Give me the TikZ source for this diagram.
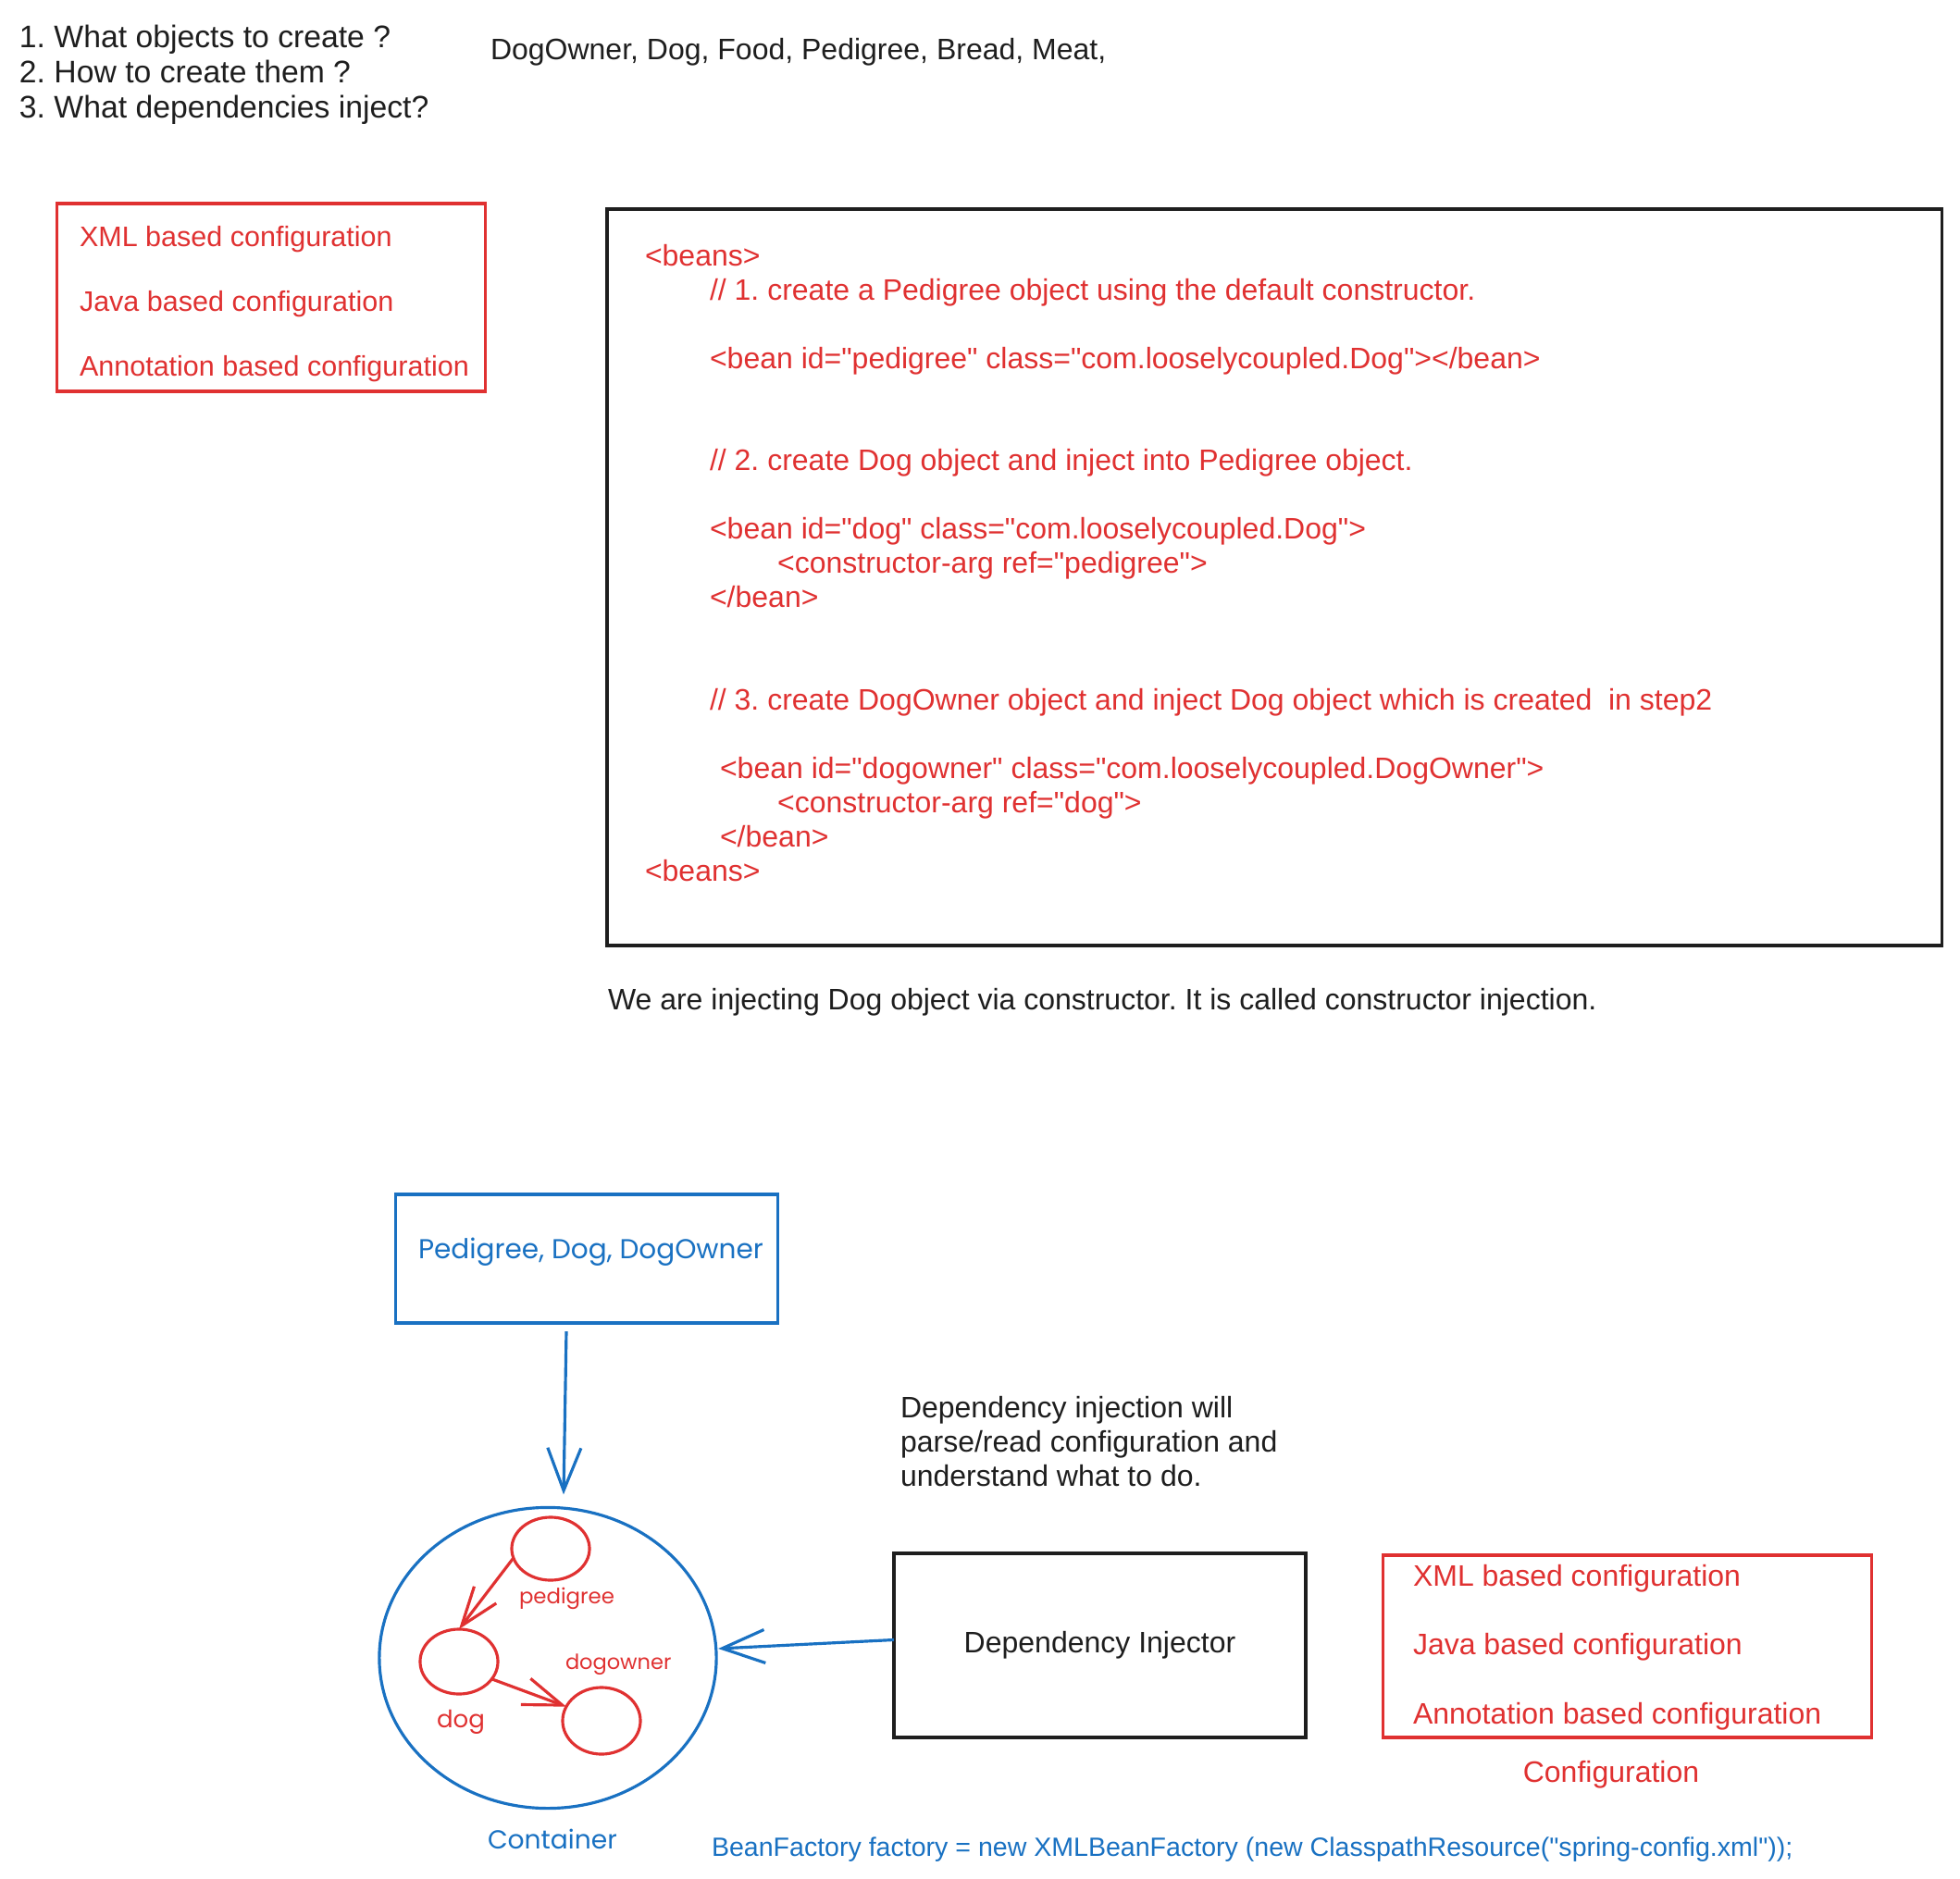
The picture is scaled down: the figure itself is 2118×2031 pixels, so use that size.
\documentclass[tikz,border=0pt]{standalone}
\usepackage{fontspec}
\setmainfont{Liberation Sans}[Ligatures=TeXOff]
\newfontfamily\roundfont{Poppins}
\usetikzlibrary{shapes.geometric,arrows.meta}
\definecolor{exred}{HTML}{E03131}
\definecolor{exblue}{HTML}{1971C2}
\definecolor{exink}{HTML}{1E1E1E}
\frenchspacing
\begin{document}
\begin{tikzpicture}[x=0.01cm,y=-0.01cm,every node/.style={inner sep=0pt,outer sep=0pt},
  txt/.style={anchor=base west,align=left,text=exink,font=\fontsize{9.1}{10.5}\selectfont},
  frame/.style={draw=#1,line width=0.9pt,rectangle},
  bubble/.style={draw=exred,line width=0.9pt,ellipse,minimum width=0.84cm},
  bluearr/.style={draw=exblue,line width=0.9pt,-{Straight Barb[length=0.46cm,width=0.36cm]}},
  redarr/.style={draw=exred,line width=0.9pt,-{Straight Barb[length=0.42cm,width=0.3cm]}}]
\useasboundingbox[fill=white] (0,0) rectangle (2118,2031);
% questions (multi-line nodes sit on their last line)
\node[txt,font=\fontsize{9.59}{10.81}\selectfont] (quest) at (21,128) {1. What objects to create ?\\2. How to create them ?\\3. What dependencies inject?};
\node[txt] (objlist) at (530,65) {DogOwner, Dog, Food, Pedigree, Bread, Meat,};
% configuration kinds
\node[frame=exred,minimum width=4.62cm,minimum height=2.03cm] (cfgtop) at (293,321.5) {};
\node[txt,text=exred,font=\fontsize{8.68}{19.92}\selectfont] (cfgtoptxt) at (86,407) {XML based configuration\\Java based configuration\\Annotation based configuration};
% xml beans
\node[frame=exink,line width=1.1pt,minimum width=14.42cm,minimum height=7.96cm] (codebox) at (1377,624) {};
\node[txt,text=exred] (code) at (697,952) {%
<beans>\\
\hspace*{0.70cm}// 1. create a Pedigree object using the default constructor.\\
\mbox{}\\
\hspace*{0.70cm}<bean id="pedigree" class="com.looselycoupled.Dog"></bean>\\
\mbox{}\\
\mbox{}\\
\hspace*{0.70cm}// 2. create Dog object and inject into Pedigree object.\\
\mbox{}\\
\hspace*{0.70cm}<bean id="dog" class="com.looselycoupled.Dog">\\
\hspace*{1.43cm}<constructor-arg ref="pedigree">\\
\hspace*{0.70cm}</bean>\\
\mbox{}\\
\mbox{}\\
\hspace*{0.70cm}// 3. create DogOwner object and inject Dog object which is created\ \ in step2\\
\mbox{}\\
\hspace*{0.81cm}<bean id="dogowner" class="com.looselycoupled.DogOwner">\\
\hspace*{1.43cm}<constructor-arg ref="dog">\\
\hspace*{0.81cm}</bean>\\
<beans>};
\node[txt] (note) at (657,1091) {We are injecting Dog object via constructor. It is called constructor injection.};
% container part
\node[frame=exblue,minimum width=4.12cm,minimum height=1.39cm] (objbox) at (634,1360.5) {};
\node[txt,text=exblue,font=\roundfont\fontsize{8.4}{10}\selectfont] (objtxt) at (452,1360) {Pedigree, Dog, DogOwner};
\node[draw=exblue,line width=0.9pt,ellipse,minimum width=3.64cm,minimum height=3.25cm] (cont) at (592,1792) {};
\node[txt,text=exblue,font=\roundfont\fontsize{8}{10}\selectfont] (contlbl) at (527,1998) {Container};
\node[bubble,minimum height=0.68cm] (ped) at (595,1674) {};
\node[bubble,minimum height=0.70cm] (dog) at (496,1796) {};
\node[bubble,minimum height=0.72cm] (own) at (650,1860) {};
\node[txt,text=exred,font=\roundfont\fontsize{6.5}{8}\selectfont] (pedlbl) at (561,1733) {pedigree};
\node[txt,text=exred,font=\roundfont\fontsize{7.4}{8}\selectfont] (doglbl) at (472,1867) {dog};
\node[txt,text=exred,font=\roundfont\fontsize{6.4}{8}\selectfont] (ownlbl) at (611,1804) {dogowner};
\node[txt] (dinote) at (973,1606) {Dependency injection will\\parse/read configuration and\\understand what to do.};
\node[frame=exink,line width=1.1pt,minimum width=4.45cm,minimum height=1.99cm,text=exink,font=\fontsize{9.1}{10.5}\selectfont] (inj) at (1188.5,1778.5) {Dependency Injector};
\node[frame=exred,minimum width=5.27cm,minimum height=1.97cm] (cfgbot) at (1758.5,1779.5) {};
\node[txt,text=exred,font=\fontsize{9.1}{21.06}\selectfont] (cfgbottxt) at (1527,1863) {XML based configuration\\Java based configuration\\Annotation based configuration};
\node[txt,anchor=base,text=exred] (cfglbl) at (1741,1926) {Configuration};
\node[txt,text=exblue,font=\fontsize{8.12}{10}\selectfont] (factory) at (769,2006) {BeanFactory factory = new XMLBeanFactory (new ClasspathResource("spring-config.xml"));};
% arrows
\draw[bluearr] ([xshift=-0.22cm,yshift=-0.09cm]objbox.south) -- ([xshift=0.17cm,yshift=0.14cm]cont.north);
\draw[bluearr] ([yshift=0.06cm]inj.west) -- ([xshift=0.02cm,yshift=0.1cm]cont.east);
\draw[redarr] (ped.194) -- (dog.north);
\draw[redarr] (dog.-28) -- (own.158);
\end{tikzpicture}
\end{document}
